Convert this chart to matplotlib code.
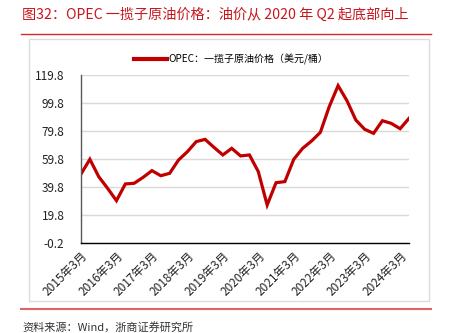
import matplotlib
matplotlib.use("Agg")
import matplotlib.pyplot as plt
from matplotlib.lines import Line2D
from matplotlib.patches import Rectangle

plt.rcParams["font.family"] = ["Noto Sans CJK SC", "DejaVu Sans"]
plt.rcParams["axes.unicode_minus"] = True

# OPEC basket price, quarterly from 2015Q1 to 2024Q2 (USD/bbl)
quarters = [f"{y}Q{q}" for y in range(2015, 2025) for q in range(1, 5)][:38]
prices = [49.2, 59.7, 47.3, 39.0, 30.2, 42.1, 42.6, 46.8, 51.6, 48.0,
          49.7, 59.2, 65.1, 72.3, 73.9, 68.2, 62.8, 67.5, 62.1, 62.8,
          50.9, 27.1, 43.0, 43.8, 59.7, 67.5, 72.7, 78.9, 97.2, 112.2,
          101.5, 87.7, 81.1, 78.2, 87.2, 85.3, 81.5, 88.9]
tick_labels = [f"{y}年3月" for y in range(2015, 2025)]
y_ticks = [-0.2, 19.8, 39.8, 59.8, 79.8, 99.8, 119.8]

red = "#c00000"
title_red = "#c8161d"

fig = plt.figure(figsize=(4.54, 3.33), dpi=100)

# title and decorations
fig.text(22 / 454, 1 - 15 / 333, "图32：OPEC 一揽子原油价格：油价从 2020 年 Q2 起底部向上",
         color=title_red, fontsize=10.2, va="center", ha="left")
fig.add_artist(Line2D([21 / 454, 431 / 454], [1 - 34 / 333] * 2,
                      color="#d8262b", lw=1.0, transform=fig.transFigure))
fig.add_artist(Rectangle((29 / 454, 1 - 301 / 333), 400 / 454, 262 / 333,
                         fill=False, edgecolor="#dcdcdc", lw=1.0,
                         transform=fig.transFigure))
fig.add_artist(Line2D([21 / 454, 431 / 454], [1 - 309 / 333] * 2,
                      color="#e06666", lw=1.5, transform=fig.transFigure))
fig.text(22 / 454, 1 - 327 / 333, "资料来源：Wind，浙商证券研究所",
         color="#333333", fontsize=8, va="center", ha="left")

ax = fig.add_axes([81 / 454, 1 - 243.3 / 333, 328 / 454, 168.3 / 333])
x = list(range(len(prices)))
ax.plot(x, prices, color=red, lw=2.3, solid_joinstyle="miter",
        label="OPEC：一揽子原油价格（美元/桶）")

ax.set_xlim(0, len(prices) - 1)
ax.set_ylim(-0.2, 119.8)
ax.set_yticks(y_ticks)
ax.set_yticklabels([f"{v:.1f}" for v in y_ticks], fontsize=8.5, color="#222222")
ax.set_xticks(range(0, len(prices), 4))
ax.set_xticklabels(tick_labels, rotation=45, ha="right", rotation_mode="anchor",
                   fontsize=8.5, color="#222222")
ax.tick_params(axis="both", length=0)
ax.tick_params(axis="y", pad=12)
ax.tick_params(axis="x", pad=4)

ax.grid(axis="y", color="#d9d9d9", lw=1.0)
ax.set_axisbelow(True)
for s in ["top", "right"]:
    ax.spines[s].set_visible(False)
ax.spines["left"].set_color("#595959")
ax.spines["left"].set_linewidth(1.0)
ax.spines["bottom"].set_color("#000000")
ax.spines["bottom"].set_linewidth(1.0)

fig.legend(handles=[Line2D([], [], color=red, lw=3)],
           labels=["OPEC：一揽子原油价格（美元/桶）"],
           loc="center", bbox_to_anchor=(231 / 454, 1 - 59 / 333),
           frameon=False, fontsize=7.2, handlelength=3.3, handletextpad=0.2)

fig.savefig("out.png", dpi=100)
